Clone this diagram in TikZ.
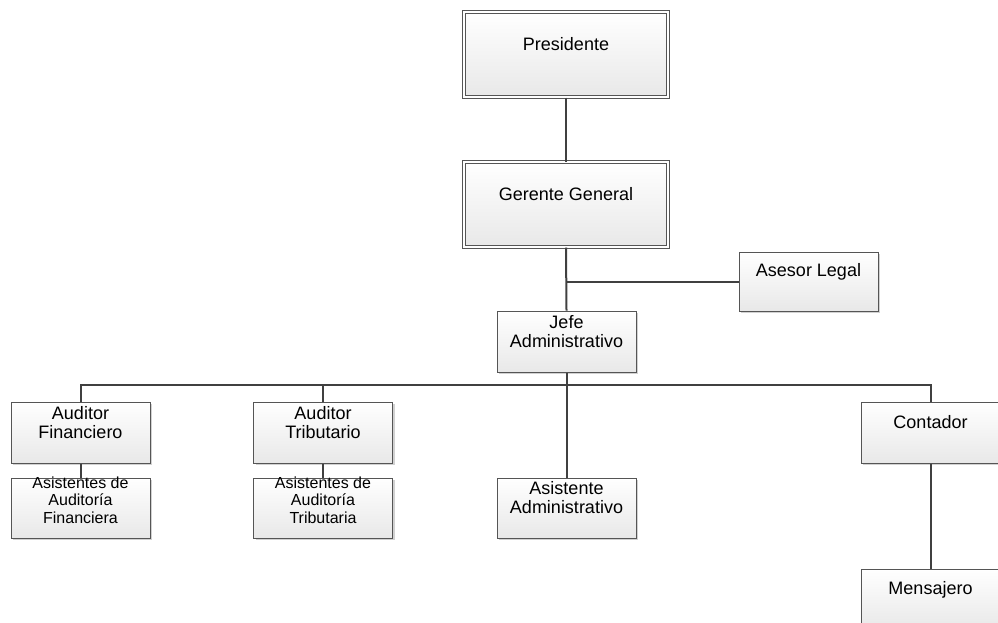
\documentclass[tikz,border=0pt]{standalone}
\usepackage{fontspec}
\setmainfont{Liberation Sans}
\usetikzlibrary{shadows}
\definecolor{boxline}{HTML}{555555}
\definecolor{boxfill}{HTML}{E8E8E8}
\definecolor{wire}{HTML}{404040}
\begin{document}
\begin{tikzpicture}[x=1pt,y=-1pt,
  box/.style={draw=boxline, line width=1pt, top color=white, bottom color=boxfill,
    minimum width=139pt, minimum height=61pt, inner sep=0pt,
    drop shadow={shadow xshift=2pt, shadow yshift=-2pt, fill=black, opacity=0.18}},
  bigbox/.style={box, minimum width=204pt, minimum height=85pt,
    double=white, double distance=2pt},
  lbl/.style={font=\fontsize{18}{19}\selectfont, align=center, text=black, inner sep=0pt},
  smalllbl/.style={font=\fontsize{16}{17.5}\selectfont, align=center, text=black, inner sep=0pt},
  wireline/.style={draw=wire, line width=2pt}]
\useasboundingbox (0,0) rectangle (998,622);

% boxes
\node[bigbox] (pres) at (566,54.5) {};
\node[bigbox] (ger)  at (566,204.5) {};
\node[box, minimum height=59pt] (ases) at (808.5,281.5) {};
\node[box] (jefe) at (566.5,341.5) {};
\node[box] (af)   at (80.5,432.5) {};
\node[box, minimum height=60pt] (aaf)  at (80.5,508) {};
\node[box] (at)   at (323,432.5) {};
\node[box, minimum height=60pt] (aat)  at (323,508) {};
\node[box, minimum height=60pt] (asad) at (566.5,508) {};
\node[box] (cont) at (930.5,432.5) {};
\node[box] (mens) at (930.5,599.5) {};

% labels
\node[lbl] (tpres) at ([yshift=10pt]pres.center) {Presidente};
\node[lbl] (tger)  at ([yshift=10pt]ger.center) {Gerente General};
\node[lbl] (tases) at ([yshift=10pt]ases.center) {Asesor Legal};
\node[lbl] (tjefe) at ([yshift=10pt]jefe.center) {Jefe\\Administrativo};
\node[lbl] (taf)   at ([yshift=10pt]af.center) {Auditor\\Financiero};
\node[smalllbl] (taaf) at ([yshift=8pt]aaf.center) {Asistentes de\\Auditoría\\Financiera};
\node[lbl] (tat)   at ([yshift=10pt]at.center) {Auditor\\Tributario};
\node[smalllbl] (taat) at ([yshift=8pt]aat.center) {Asistentes de\\Auditoría\\Tributaria};
\node[lbl] (tasad) at ([yshift=10pt]asad.center) {Asistente\\Administrativo};
\node[lbl] (tcont) at ([yshift=10pt]cont.center) {Contador};
\node[lbl] (tmens) at ([yshift=10pt]mens.center) {Mensajero};

% connectors
\coordinate (bus) at (566.5,385);
\draw[wireline] (pres.south) -- (ger.north);
\draw[wireline] (ger.south) -- (jefe.north);
\draw[wireline] (ger.south |- ases.west) -- (ases.west);
\draw[wireline] (jefe.south) -- (asad.north);
\draw[wireline] (af.north) -- (af.north |- bus) -| (cont.north);
\draw[wireline] (at.north) -- (at.north |- bus);
\draw[wireline] (af.south) -- (aaf.north);
\draw[wireline] (at.south) -- (aat.north);
\draw[wireline] (cont.south) -- (mens.north);
\end{tikzpicture}
\end{document}
